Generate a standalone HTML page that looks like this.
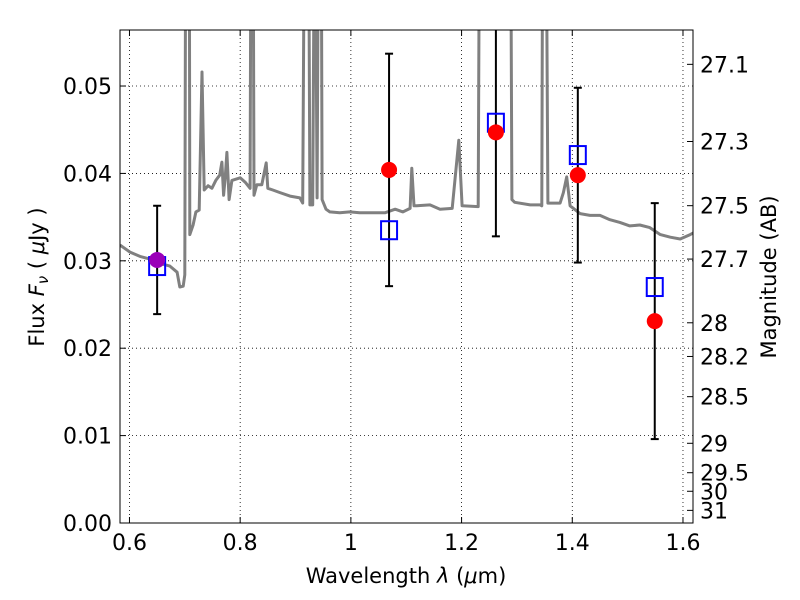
<!DOCTYPE html>
<html><head><meta charset="utf-8"><style>
html,body{margin:0;padding:0;background:#fff;}
svg{display:block;font-family:"DejaVu Sans","Liberation Sans",sans-serif;}
</style></head><body>
<svg id="chart" width="800" height="600" viewBox="0 0 800 600" xmlns="http://www.w3.org/2000/svg">
<defs><clipPath id="plotclip"><rect x="120" y="30" width="573" height="493"/></clipPath></defs>
<rect x="0" y="0" width="800" height="600" fill="#fff"/>
<g id="grid"></g>
<g id="series" clip-path="url(#plotclip)"></g>
<rect x="120" y="30" width="573" height="493" fill="none" stroke="#000" stroke-width="1"/>
<g id="axes"></g>
<text x="406" y="583" font-size="21" text-anchor="middle">Wavelength  <tspan font-style="italic">λ</tspan> (<tspan font-style="italic">μ</tspan>m)</text>
<text transform="translate(44,277) rotate(-90)" font-size="21" text-anchor="middle">Flux  <tspan font-style="italic">F</tspan><tspan font-style="italic" font-size="15" dy="4">ν</tspan><tspan dy="-4">  ( </tspan><tspan font-style="italic">μ</tspan>Jy )</text>
<text transform="translate(776,277) rotate(-90)" font-size="21" text-anchor="middle">Magnitude (AB)</text>
</svg>
<script>
const specLam=[0.583,0.601,0.619,0.637,0.655,0.673,0.686,0.691,0.697,0.700,0.702,0.708,0.709,0.715,0.720,0.726,0.731,0.735,0.742,0.749,0.756,0.763,0.767,0.770,0.773,0.776,0.780,0.785,0.800,0.809,0.818,0.820,0.823,0.825,0.830,0.839,0.847,0.850,0.859,0.872,0.890,0.908,0.913,0.917,0.923,0.926,0.931,0.935,0.939,0.942,0.946,0.948,0.955,0.962,0.980,0.998,1.016,1.035,1.062,1.080,1.094,1.107,1.110,1.114,1.119,1.143,1.161,1.183,1.195,1.201,1.230,1.233,1.288,1.291,1.296,1.324,1.342,1.345,1.347,1.352,1.356,1.378,1.384,1.390,1.396,1.414,1.432,1.450,1.468,1.486,1.504,1.522,1.540,1.559,1.577,1.595,1.613,1.619];
const specFlux=[0.0318,0.0310,0.0305,0.0302,0.0297,0.0294,0.0287,0.0270,0.0271,0.0284,0.08,0.08,0.0330,0.0341,0.0356,0.0358,0.0516,0.0381,0.0386,0.0383,0.0392,0.0398,0.0413,0.0375,0.0395,0.0424,0.0370,0.0392,0.0395,0.0390,0.0383,0.08,0.08,0.0375,0.0387,0.0387,0.0412,0.0383,0.0381,0.0378,0.0374,0.0372,0.0366,0.08,0.08,0.0364,0.0364,0.08,0.0372,0.08,0.08,0.0370,0.0359,0.0356,0.0355,0.0356,0.0355,0.0355,0.0355,0.0359,0.0356,0.0360,0.0406,0.0363,0.0363,0.0364,0.0359,0.0360,0.0438,0.0363,0.0362,0.08,0.08,0.0370,0.0367,0.0364,0.0364,0.0363,0.08,0.08,0.0366,0.0366,0.0378,0.0396,0.0363,0.0354,0.0352,0.0352,0.0347,0.0344,0.0340,0.0341,0.0338,0.0330,0.0327,0.0325,0.0330,0.0332];
const obsLam=[0.650,1.069,1.262,1.410,1.549];
const obsFlux=[0.0301,0.0404,0.0447,0.0398,0.0231];
const obsErr=[0.0062,0.0133,0.0119,0.0100,0.0135];
const modelFlux=[0.0294,0.0335,0.0458,0.0421,0.0270];
const xTicks=[0.6,0.8,1.0,1.2,1.4,1.6];
const xTickLabels=["0.6","0.8","1","1.2","1.4","1.6"];
const yTicks=[0,0.01,0.02,0.03,0.04,0.05];
const yTickLabels=["0.00","0.01","0.02","0.03","0.04","0.05"];
const magTicks=[27.1,27.3,27.5,27.7,28,28.2,28.5,29,29.5,30,31];
const magTickLabels=["27.1","27.3","27.5","27.7","28","28.2","28.5","29","29.5","30","31"];

const NS="http://www.w3.org/2000/svg";
const X0=120,X1=693,Y0=523,Y1=30;
const xmin=0.5829,xmax=1.6181,ymin=0,ymax=0.05641;
function sx(v){return X0+(v-xmin)/(xmax-xmin)*(X1-X0);}
function sy(v){return Y0-(v-ymin)/(ymax-ymin)*(Y0-Y1);}
function magToFlux(m){return Math.pow(10,(23.9-m)/2.5);}
function mk(tag,attrs,parent){const e=document.createElementNS(NS,tag);for(const k in attrs)e.setAttribute(k,attrs[k]);parent.appendChild(e);return e;}
const grid=document.getElementById('grid'),series=document.getElementById('series'),axes=document.getElementById('axes');

xTicks.forEach((t,i)=>{
  const x=sx(t);
  const g=mk('line',{x1:x,x2:x,y1:Y1,y2:Y0,stroke:'#000','stroke-width':0.8,'stroke-dasharray':'1,3'},grid);
  
  
  const tk=mk('line',{x1:x,x2:x,y1:Y0,y2:Y0-6,stroke:'#000'},axes);
  
  
  const tk2=mk('line',{x1:x,x2:x,y1:Y1,y2:Y1+6,stroke:'#000'},axes);
  
  
  const lb=mk('text',{x:x,y:550,'font-size':22,'text-anchor':'middle'},axes);
  lb.textContent=xTickLabels[i];
  
  
});
yTicks.forEach((t,i)=>{
  const y=sy(t);
  if(t>0){const g=mk('line',{x1:X0,x2:X1,y1:y,y2:y,stroke:'#000','stroke-width':0.8,'stroke-dasharray':'1,3'},grid);
  
  }
  const tk=mk('line',{x1:X0,x2:X0+6,y1:y,y2:y,stroke:'#000'},axes);
  
  
  const lb=mk('text',{x:112,y:y+8,'font-size':22,'text-anchor':'end'},axes);
  lb.textContent=yTickLabels[i];
  
  
});
magTicks.forEach((m,i)=>{
  const y=sy(magToFlux(m));
  const tk=mk('line',{x1:X1,x2:X1-6,y1:y,y2:y,stroke:'#000'},axes);
  
  
  const lb=mk('text',{x:700,y:y+8,'font-size':22,'text-anchor':'start'},axes);
  lb.textContent=magTickLabels[i];
  
  
});

let d='';
specLam.forEach((l,i)=>{d+=(i?'L':'M')+sx(l).toFixed(1)+','+sy(specFlux[i]).toFixed(1);});
const sp=mk('path',{d:d,fill:'none',stroke:'#808080','stroke-width':3,'stroke-linejoin':'round'},series);



obsLam.forEach((l,i)=>{
  const x=sx(l),yt=sy(obsFlux[i]+obsErr[i]),yb=sy(obsFlux[i]-obsErr[i]);
  const eb=mk('g',{},series);
  
  
  mk('line',{x1:x,x2:x,y1:yt,y2:yb,stroke:'#000','stroke-width':2},eb);
  mk('line',{x1:x-4,x2:x+4,y1:yt,y2:yt,stroke:'#000','stroke-width':2},eb);
  mk('line',{x1:x-4,x2:x+4,y1:yb,y2:yb,stroke:'#000','stroke-width':2},eb);
});
obsLam.forEach((l,i)=>{
  const x=sx(l),y=sy(modelFlux[i]);
  const sq=mk('rect',{x:x-8,y:y-9,width:16,height:18,fill:'none',stroke:'#0000ff','stroke-width':2},series);
  
  
});
obsLam.forEach((l,i)=>{
  const c=mk('circle',{cx:sx(l),cy:sy(obsFlux[i]),r:8,fill:i===0?'#9a00b8':'#ff0000'},series);
  
  
});
</script>
</body></html>
